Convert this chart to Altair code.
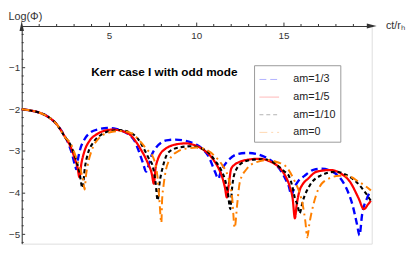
import altair as alt
import pandas as pd

# ---------------- data ----------------
series_names = ["am=1/3", "am=1/5", "am=1/10", "am=0"]
series_colors = ["#0000ff", "#ff0000", "#000000", "#ff8000"]
series_dashes = [[7, 4], [1, 0], [4, 3], [8, 4, 2, 4]]
series_widths = [2.4, 2.0, 2.0, 2.4]

t_13 = [0, 0.5, 1.0, 1.5, 2.0, 2.4, 2.7, 2.9, 3.05, 3.12, 3.22, 3.35, 3.6, 3.9, 4.4,
        4.9, 5.4, 5.8, 6.2, 6.45, 6.7, 6.95, 7.13, 7.3, 7.45, 7.7, 8.0, 8.4, 8.8, 9.4,
        10.0, 10.4, 10.7, 11.07, 11.27, 11.4, 11.6, 11.9, 12.34, 12.9, 13.5, 14.0, 14.4,
        14.8, 15.1, 15.3, 15.45, 15.6, 15.8, 16.2, 16.75, 17.2, 17.7, 18.2, 18.6, 18.95,
        19.2, 19.35, 19.5, 19.78, 20.0]
y_13 = [-2.0, -2.03, -2.08, -2.18, -2.36, -2.6, -2.85, -3.1, -3.35, -3.44, -3.2, -2.96,
        -2.72, -2.57, -2.48, -2.45, -2.47, -2.53, -2.63, -2.75, -3.0, -3.3, -3.5, -3.3,
        -3.1, -2.92, -2.8, -2.74, -2.73, -2.76, -2.85, -2.97, -3.13, -3.5, -3.67, -3.5,
        -3.35, -3.2, -3.08, -3.05, -3.08, -3.16, -3.27, -3.45, -3.67, -3.85, -4.07, -3.9,
        -3.75, -3.6, -3.45, -3.43, -3.48, -3.63, -3.9, -4.3, -4.75, -5.03, -4.53, -4.14,
        -3.95]

t_15 = [0, 0.5, 1.0, 1.5, 2.0, 2.5, 2.8, 3.05, 3.2, 3.3, 3.42, 3.6, 3.9, 4.3, 4.8, 5.2,
        5.8, 6.3, 6.8, 7.2, 7.45, 7.57, 7.66, 7.8, 7.93, 8.2, 8.48, 8.9, 9.4, 10.0, 10.5,
        10.9, 11.24, 11.5, 11.65, 11.75, 11.85, 12.0, 12.2, 12.45, 13.0, 13.6, 14.2, 14.7,
        15.1, 15.35, 15.52, 15.65, 15.75, 15.9, 16.1, 16.4, 16.9, 17.7, 18.3, 18.8, 19.3,
        19.6, 19.85, 20.0]
y_15 = [-2.0, -2.03, -2.08, -2.18, -2.36, -2.68, -2.9, -3.2, -3.4, -3.63, -3.3, -3.0,
        -2.75, -2.6, -2.51, -2.49, -2.53, -2.65, -2.95, -3.27, -3.55, -3.79, -3.44, -3.2,
        -3.08, -2.96, -2.89, -2.84, -2.82, -2.88, -3.0, -3.17, -3.39, -3.65, -3.9, -4.12,
        -3.85, -3.43, -3.33, -3.27, -3.21, -3.19, -3.25, -3.38, -3.6, -3.85, -4.14, -4.62,
        -4.3, -3.98, -3.8, -3.67, -3.5, -3.46, -3.55, -3.74, -4.14, -4.4, -4.28, -4.2]

t_110 = [0, 0.5, 1.0, 1.5, 2.0, 2.5, 2.8, 3.1, 3.3, 3.48, 3.62, 3.8, 4.1, 4.6, 5.1, 5.6,
         6.2, 6.6, 7.0, 7.3, 7.5, 7.66, 7.79, 7.88, 8.1, 8.4, 9.0, 9.7, 10.2, 10.7, 11.1,
         11.4, 11.65, 11.8, 11.95, 12.05, 12.23, 12.7, 13.3, 13.9, 14.5, 15.0, 15.3, 15.5,
         15.65, 15.8, 15.92, 16.1, 16.5, 17.1, 18.0, 18.6, 19.1, 19.5, 19.8, 20.0]
y_110 = [-2.0, -2.03, -2.08, -2.18, -2.36, -2.68, -2.86, -3.2, -3.5, -3.89, -3.4, -3.05,
         -2.8, -2.6, -2.52, -2.5, -2.56, -2.68, -2.95, -3.2, -3.36, -3.74, -4.19, -3.83,
         -3.36, -3.04, -2.92, -2.89, -2.93, -3.04, -3.25, -3.44, -3.7, -3.98, -4.4, -3.9,
         -3.5, -3.27, -3.21, -3.2, -3.3, -3.48, -3.6, -3.85, -4.14, -4.3, -4.5, -4.21,
         -3.83, -3.6, -3.5, -3.58, -3.72, -3.9, -4.07, -4.2]

t_0 = [0, 0.5, 1.0, 1.5, 2.0, 2.5, 2.8, 3.15, 3.4, 3.52, 3.6, 3.68, 3.8, 4.0, 4.46, 5.0,
       5.7, 6.3, 6.8, 7.2, 7.5, 7.77, 7.88, 8.0, 8.04, 8.12, 8.2, 8.48, 9.0, 9.5, 10.0,
       10.6, 11.07, 11.5, 11.8, 12.06, 12.2, 12.34, 12.5, 12.9, 13.45, 14.1, 14.7, 15.1,
       15.65, 15.95, 16.1, 16.25, 16.36, 16.48, 16.58, 16.86, 17.3, 18.2, 18.8, 19.3,
       19.7, 20.0]
y_0 = [-2.0, -2.03, -2.08, -2.18, -2.36, -2.68, -2.82, -3.2, -3.5, -3.7, -3.93, -3.6,
       -3.3, -3.0, -2.68, -2.56, -2.52, -2.58, -2.78, -2.98, -3.13, -3.6, -4.14, -4.73,
       -4.2, -3.85, -3.6, -3.2, -3.0, -2.94, -2.92, -2.98, -3.13, -3.35, -3.6, -4.14,
       -4.85, -4.3, -3.74, -3.43, -3.27, -3.22, -3.28, -3.36, -3.74, -4.05, -4.3, -4.7,
       -5.08, -4.75, -4.53, -4.07, -3.74, -3.6, -3.62, -3.74, -3.85, -3.95]

x_major_ticks = [5, 10, 15]
x_minor_ticks = [1, 2, 3, 4, 6, 7, 8, 9, 11, 12, 13, 14, 16, 17, 18, 19]
y_major_ticks = [-5, -4, -3, -2, -1]
y_minor_ticks = [-5.2, -4.8, -4.6, -4.4, -4.2, -3.8, -3.6, -3.4, -3.2, -2.8, -2.6, -2.4,
                 -2.2, -1.8, -1.6, -1.4, -1.2, -0.8, -0.6, -0.4, -0.2]

chart_title = "Kerr case I with odd mode"
title_pos = (8.17, -1.1)
x_label = "ct/r\u2095"
y_label = "Log(\u03a6)"

X_MAX = 20.05
Y_MIN = -5.23
PLOT_W = 357
PLOT_H = 222

# ---------------- tables ----------------
frames = []
for name, ts, ys in zip(series_names, [t_13, t_15, t_110, t_0], [y_13, y_15, y_110, y_0]):
    f = pd.DataFrame({"t": ts, "logphi": ys})
    f["series"] = name
    frames.append(f)
df = pd.concat(frames, ignore_index=True)

# one point per series: draws nothing, only feeds the legend
legend_df = pd.DataFrame({"t": [0.0] * 4, "logphi": [-2.0] * 4, "series": series_names})

title_df = pd.DataFrame({"t": [title_pos[0]], "logphi": [title_pos[1]], "label": [chart_title]})
arrow_df = pd.DataFrame({
    "t": [X_MAX, 0],
    "logphi": [0, 0],
    "shape": ["M1,0L-1,-0.5L-1,0.5Z", "M0,-1L-0.45,1L0.45,1Z"],
})
xminor_df = pd.DataFrame({"t": x_minor_ticks})
yminor_df = pd.DataFrame({"logphi": y_minor_ticks})

AX = "#333333"
FONT = "Liberation Sans"

x_axis = alt.Axis(
    orient="top", values=x_major_ticks, grid=False,
    tickSize=4, tickColor=AX, tickWidth=1,
    domainColor=AX, domainWidth=1,
    labelBaseline="top", labelPadding=-9, labelFontSize=10, labelFont=FONT,
    labelColor=AX, labelOverlap=False, labelFlush=False,
    title=x_label, titleX=PLOT_W + 14, titleY=0, titleAlign="left",
    titleBaseline="middle", titleFontWeight="normal", titleFontSize=11,
    titleFont=FONT, titleColor=AX,
)
y_axis = alt.Axis(
    orient="right", offset=-PLOT_W, values=y_major_ticks, grid=False,
    tickSize=3, tickColor=AX, tickWidth=1,
    domainColor=AX, domainWidth=1,
    labelAlign="right", labelBaseline="middle", labelPadding=-5, labelFontSize=10,
    labelFont=FONT, labelColor=AX, labelOverlap=False, labelFlush=False,
    title=y_label, titleAngle=0, titleX=-14, titleY=-10, titleAlign="left",
    titleBaseline="middle", titleFontWeight="normal", titleFontSize=11,
    titleFont=FONT, titleColor=AX,
)

pad = "\u00a0" * 14
legend = alt.Legend(
    title=None, orient="none", legendX=237, legendY=40,
    symbolType="stroke", symbolSize=400, symbolStrokeWidth=1, symbolOpacity=0.3,
    labelFontSize=11, labelFont=FONT, labelColor="#222222", labelOffset=14,
    symbolOffset=1, padding=4, rowPadding=2, strokeColor="#999999",
    fillColor="white", labelExpr="datum.label + '" + pad + "'",
)

xs = alt.Scale(domain=[0, X_MAX], nice=False, zero=False)
ys = alt.Scale(domain=[Y_MIN, 0], nice=False, zero=False)
cs = alt.Scale(domain=series_names, range=series_colors)
ds = alt.Scale(domain=series_names, range=series_dashes)

lines = alt.Chart(df).mark_line(interpolate="monotone", clip=False).encode(
    x=alt.X("t:Q", scale=xs, axis=x_axis),
    y=alt.Y("logphi:Q", scale=ys, axis=y_axis),
    color=alt.Color("series:N", scale=cs, sort=series_names, legend=None),
    strokeDash=alt.StrokeDash("series:N", scale=ds, sort=series_names, legend=None),
    strokeWidth=alt.StrokeWidth("series:N", scale=alt.Scale(domain=series_names, range=series_widths),
                                legend=None),
)

legend_layer = alt.Chart(legend_df).mark_line(strokeWidth=1, opacity=0.3).encode(
    x=alt.X("t:Q"),
    y=alt.Y("logphi:Q"),
    color=alt.Color("series:N", scale=cs, sort=series_names, legend=legend),
    strokeDash=alt.StrokeDash("series:N", scale=ds, sort=series_names, legend=legend),
)

xminor = alt.Chart(xminor_df).mark_tick(
    orient="vertical", size=2, thickness=1, color=AX, yOffset=-1, opacity=1
).encode(x=alt.X("t:Q"), y=alt.datum(0))

yminor = alt.Chart(yminor_df).mark_tick(
    orient="horizontal", size=2, thickness=1, color=AX, xOffset=1, opacity=1
).encode(y=alt.Y("logphi:Q"), x=alt.datum(0))

title_text = alt.Chart(title_df).mark_text(
    font=FONT, fontSize=12, fontWeight="bold", align="center",
    baseline="middle", color="black"
).encode(x=alt.X("t:Q"), y=alt.Y("logphi:Q"), text="label:N")

arrows = alt.Chart(arrow_df).mark_point(
    filled=True, size=100, color=AX, opacity=1, clip=False, strokeWidth=0
).encode(x=alt.X("t:Q"), y=alt.Y("logphi:Q"), shape=alt.Shape("shape:N", scale=None))

chart = alt.layer(lines, legend_layer, xminor, yminor, title_text, arrows).resolve_scale(
    color="independent", strokeDash="independent"
).properties(
    width=PLOT_W, height=PLOT_H,
    autosize=alt.AutoSizeParams(type="none"),
    padding={"left": 14, "top": 16, "right": 36, "bottom": 0},
    background="white",
).configure_view(stroke=None).configure(font=FONT)

chart.save("out.html", embed_options={"renderer": "svg", "actions": False})
